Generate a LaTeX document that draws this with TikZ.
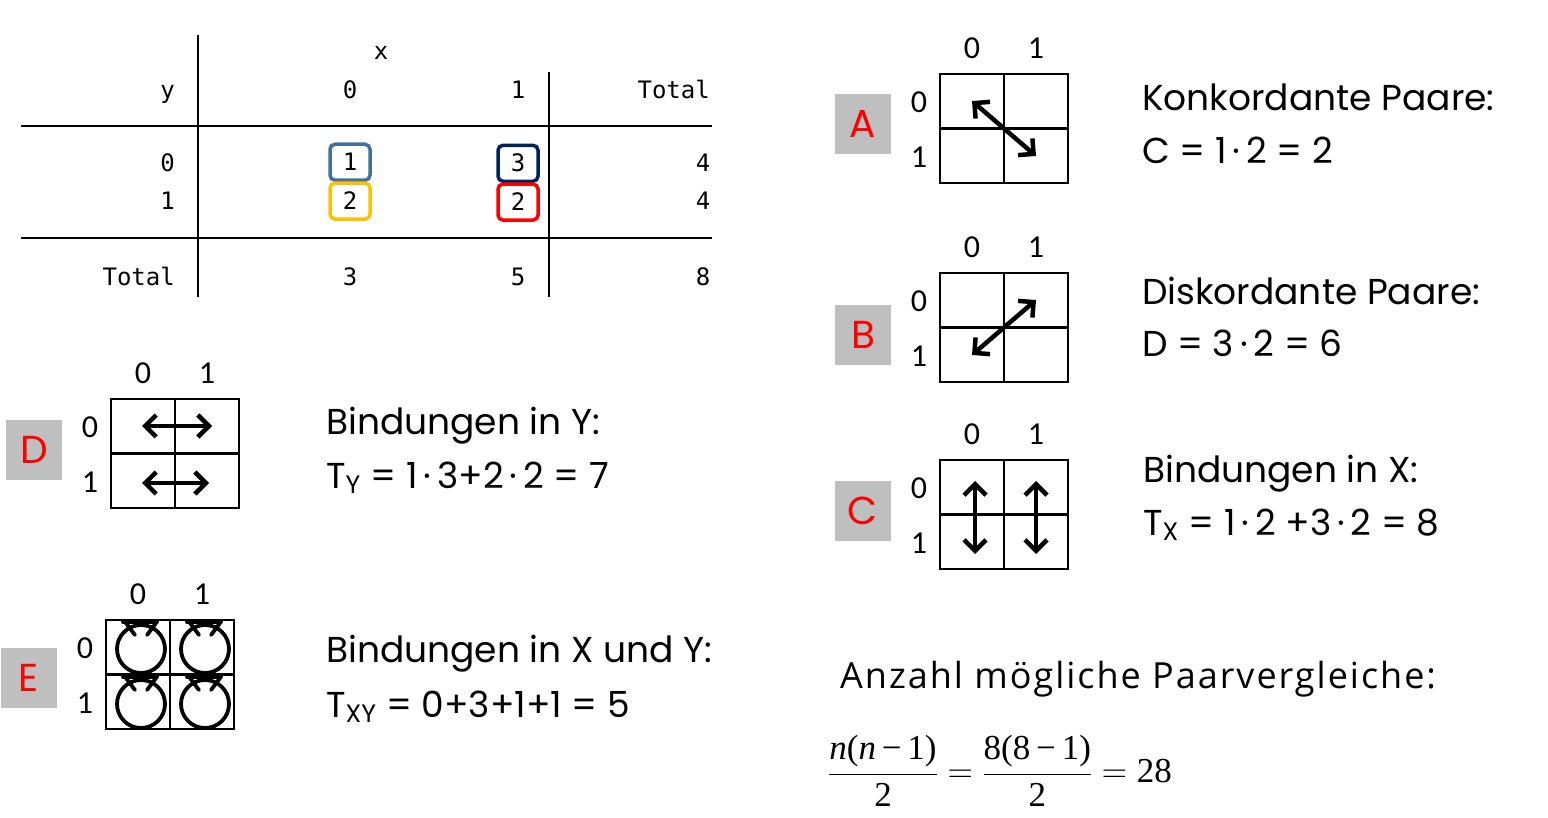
\RequirePackage{fix-cm}
\documentclass[tikz,border=0pt]{standalone}
\usepackage{amsmath}
\usepackage{fontspec}
\setmainfont{Poppins}
\newfontfamily\monofont{DejaVu Sans Mono}
\newfontfamily\lblfont{Carlito}
\newfontfamily\segfont[LetterSpace=5.5]{Open Sans}
\newfontfamily\tmsfont{Liberation Serif}
\usepackage{tikz}
\usetikzlibrary{arrows.meta,positioning}
\definecolor{boxgray}  {RGB}{191,191,191}
\definecolor{lettred}  {RGB}{255,0,0}
\definecolor{cellblue} {RGB}{65,113,156}
\definecolor{cellnavy} {RGB}{0,32,96}
\definecolor{cellgold} {RGB}{255,192,0}
\definecolor{cellred}  {RGB}{255,0,0}
\newcommand{\tn}{{\itshape n}}
\tikzset{
  tabtxt/.style ={font=\monofont\fontsize{24}{28}\selectfont,
                  inner sep=0pt, anchor=base},
  cellbox/.style={tabtxt, draw=#1, line width=3.5pt, rounded corners=5pt,
                  minimum width=40pt, minimum height=36pt},
  rule/.style   ={line width=2.2pt},
  cell/.style   ={draw, line width=1.6pt, minimum width=64pt,
                  minimum height=54.5pt, inner sep=0pt},
  lettbox/.style={fill=boxgray, text=lettred, minimum width=56pt,
                  minimum height=60pt, inner sep=0pt,
                  font=\fontsize{39}{40}\selectfont},
  axlbl/.style  ={font=\lblfont\fontsize{32}{34}\selectfont, inner sep=0pt},
  bodytxt/.style={font=\fontsize{36}{44}\selectfont, inner sep=0pt,
                  anchor=base west},
  dblarr/.style ={line width=4.5pt,
                  {Straight Barb[length=11pt,width=22pt]}-{Straight Barb[length=11pt,width=22pt]}},
  loopln/.style ={line width=3.8pt, line cap=round},
}
\begin{document}
\begin{tikzpicture}[x=1pt,y=-1pt]
  \useasboundingbox (0,0) rectangle (1548,818);
  %% contingency table
  \draw[rule] (21,126) -- (712,126);
  \draw[rule] (21,238) -- (712,238);
  \draw[rule] (198,35) -- (198,297);
  \draw[rule] (549,72) -- (549,297);
  \node[tabtxt] (hx) at (381,60) {x};
  \node[tabtxt, anchor=base east] (hy) at (175,99) {y};
  \node[tabtxt] (h0) at (350,99) {0};
  \node[tabtxt] (h1) at (518,99) {1};
  \node[tabtxt, anchor=base east] (htot) at (710,99) {Total};
  \node[tabtxt, anchor=base east] (r0) at (175,172) {0};
  \node[tabtxt, anchor=base east] (r1) at (175,210) {1};
  \node[cellbox=cellblue] (n00) at (350,171) {1};
  \node[cellbox=cellnavy] (n01) at (518,172) {3};
  \node[cellbox=cellgold] (n10) at (350,210) {2};
  \node[cellbox=cellred]  (n11) at (518,211) {2};
  \node[tabtxt] (s0) at (703,172) {4};
  \node[tabtxt] (s1) at (703,210) {4};
  \node[tabtxt, anchor=base east] (tlab) at (175,286) {Total};
  \node[tabtxt] (t0) at (350,286) {3};
  \node[tabtxt] (t1) at (518,286) {5};
  \node[tabtxt] (tt) at (703,286) {8};
  %% small 2x2 grids
  \foreach \g/\gx/\gy/\by in {A/940/74/124, B/940/273/335, C/940/460/511,
                              D/111/399/450, E/106/620/678}{
    \node[cell] (\g-00) at (\gx+32,\gy+27) {};
    \node[cell] (\g-01) at (\gx+96,\gy+27) {};
    \node[cell] (\g-10) at (\gx+32,\gy+82) {};
    \node[cell] (\g-11) at (\gx+96,\gy+82) {};
    \node[axlbl] (\g-c0) at (\gx+32,\gy-26) {0};
    \node[axlbl] (\g-c1) at (\gx+96,\gy-26) {1};
    \node[axlbl] (\g-r0) at (\gx-21,\gy+28) {0};
    \node[axlbl] (\g-r1) at (\gx-21,\gy+83) {1};
    \node[lettbox] (\g-box) at (\gx-77,\by) {\g};
  }
  \draw[dblarr] (A-00.center) -- (A-11.center);
  \draw[dblarr] (B-10.center) -- (B-01.center);
  \draw[dblarr, shorten <=-6pt, shorten >=-12pt] ([xshift=3pt]C-00.center) -- ([xshift=3pt]C-10.center);
  \draw[dblarr, shorten <=-6pt, shorten >=-12pt] (C-01.center) -- (C-11.center);
  \draw[dblarr, shorten <=-1pt, shorten >=-5pt] (D-00.center) -- (D-01.center);
  \draw[dblarr, shorten <=-1pt, shorten >=-2pt] ([yshift=-2pt]D-10.center) -- ([yshift=-2pt]D-11.center);
  \foreach \c in {E-00,E-01,E-10,E-11}{
    \draw[loopln] ([shift={(3,2)}]\c.center) circle[radius=24];
    \draw[loopln] ([shift={(-15,-25)}]\c.center) -- ++(34,0);
    \draw[loopln] ([shift={(-12,-24)}]\c.center) -- ++(9,12);
    \draw[loopln] ([shift={(18,-24)}]\c.center) -- ++(-9,12);
  }
  %% texts
  \node[bodytxt] (kon)  at (1142,111) {Konkordante Paare:};
  \node[bodytxt] (konf) at (1142,164) {C = 1\,·\,2 = 2};
  \node[bodytxt] (dis)  at (1142,305) {Diskordante Paare:};
  \node[bodytxt] (disf) at (1142,357) {D = 3\,·\,2 = 6};
  \node[bodytxt] (bx)   at (1143,482) {Bindungen in X:};
  \node[bodytxt] (bxf)  at (1143,535) {T\textsubscript{X} = 1\,·\,2 +3\,·\,2 = 8};
  \node[bodytxt] (by)   at (326,434) {Bindungen in Y:};
  \node[bodytxt] (byf)  at (326,488) {T\textsubscript{Y} = 1\,·\,3+2\,·\,2 = 7};
  \node[bodytxt] (bxy)  at (326,662) {Bindungen in X und Y:};
  \node[bodytxt] (bxyf) at (326,717) {T\textsubscript{XY} = 0+3+1+1 = 5};
  \node[bodytxt, font=\segfont\fontsize{36}{40}\selectfont] (anz) at (840,688)
    {Anzahl mögliche Paarvergleiche:};
  \node[inner sep=0pt, font=\tmsfont\fontsize{35}{40}\selectfont] (frm) at (1000,771)
    {$\displaystyle \frac{\text{\tmsfont\tn(\tn\,−\,1)}}{\text{\tmsfont 2}}
      =\frac{\text{\tmsfont 8(8\,−\,1)}}{\text{\tmsfont 2}}=\text{\tmsfont 28}$};
\end{tikzpicture}
\end{document}
